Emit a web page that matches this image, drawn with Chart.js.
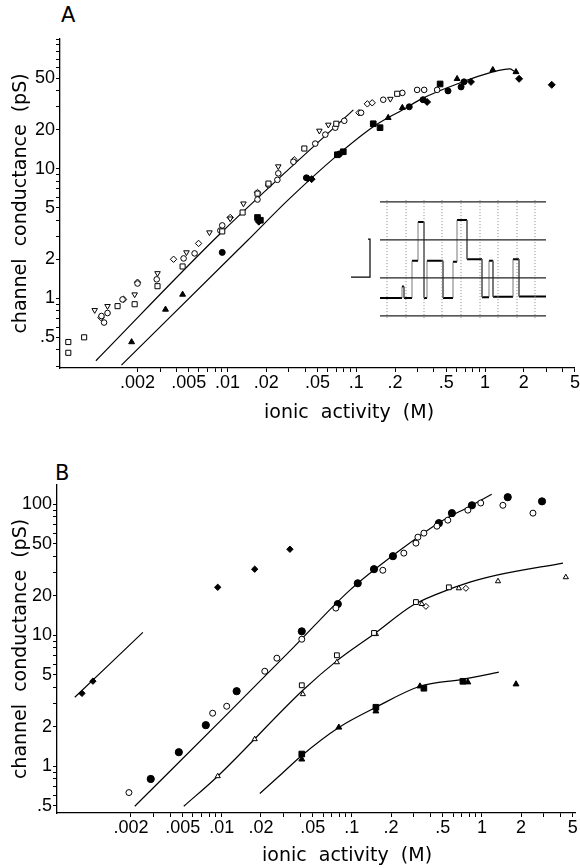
<!DOCTYPE html>
<html><head><meta charset="utf-8">
<script src="https://cdn.jsdelivr.net/npm/chart.js@4.4.1/dist/chart.umd.min.js"></script>
<style>
html,body{margin:0;padding:0;background:#fff;}
body{width:580px;height:868px;position:relative;overflow:hidden;font-family:"DejaVu Sans",sans-serif;color:#000;}
canvas{position:absolute;}
.lbl{position:absolute;font-size:21px;line-height:1;}
.xt{position:absolute;font-size:19px;white-space:pre;line-height:1;}
</style></head><body>
<div class="lbl" style="left:61px;top:5px">A</div>
<canvas id="cA" width="580" height="425" style="left:0;top:0"></canvas>
<canvas id="cIn" width="205" height="122" style="left:345px;top:198px"></canvas>
<div class="xt" style="left:264px;top:402px">ionic  activity  (M)</div>
<div class="lbl" style="left:55px;top:463px">B</div>
<canvas id="cB" width="580" height="435" style="left:0;top:430px"></canvas>
<div class="xt" style="left:262px;top:845px">ionic  activity  (M)</div>
<script>
// ---------- tick labels ----------
const xTickVals   = [0.002,0.005,0.01,0.02,0.05,0.1,0.2,0.5,1,2,5];
const xTickLabels = ['.002','.005','.01','.02','.05','.1','.2','.5','1','2','5'];
const aYTickVals   = [0.5,1,2,5,10,20,50];
const aYTickLabels = ['.5','1','2','5','10','20','50'];
const bYTickVals   = [0.5,1,2,5,10,20,50,100];
const bYTickLabels = ['.5','1','2','5','10','20','50','100'];

// ---------- panel A data [activity M, conductance pS] ----------
const aOpenCircles = [[0.0011,0.65],[0.00105,0.73],[0.00117,0.77],[0.00153,0.98],[0.0020,1.30],[0.00282,1.40],[0.00456,2.03],[0.00555,2.22],[0.0088,3.33],[0.0091,3.65],[0.0171,5.78],[0.0208,7.5],[0.0244,8.2],[0.0248,9.2],[0.0325,11.3],[0.048,15.6],[0.0575,18.3],[0.0687,20.7],[0.0807,23.4],[0.109,27],[0.162,34],[0.228,38.4],[0.297,40.5],[0.337,40.5],[0.425,40.5]];
const aOpenSquares = [[0.00058,0.46],[0.00058,0.38],[0.00077,0.50],[0.0014,0.87],[0.0019,0.90],[0.00286,1.24],[0.00448,1.76],[0.0091,3.28],[0.0131,4.59],[0.0171,6.42],[0.0208,7.67],[0.0395,14.3],[0.070,22.2],[0.208,37.8]];
const aOpenTriangles = [[0.00093,0.81],[0.00117,0.87],[0.0019,1.07],[0.00286,1.56],[0.0048,2.26],[0.00724,3.22],[0.0105,4.12],[0.0133,5.38],[0.0248,10.4],[0.0517,19.6],[0.0607,21.8],[0.184,34.5]];
const aOpenDiamonds = [[0.00104,0.71],[0.00156,0.98],[0.0020,1.33],[0.00381,2.0],[0.00596,2.65],[0.0105,4.2],[0.0171,6.54],[0.033,11.7],[0.105,27],[0.122,31.6],[0.133,32.2]];
const aFilledTriangles = [[0.0018,0.46],[0.0033,0.82],[0.00448,1.07],[0.177,24.7],[0.228,29.5],[0.607,49.3],[1.15,57.8],[1.74,55.7]];
const aFilledCircles = [[0.0091,2.26],[0.041,8.5],[0.074,13],[0.258,30],[0.33,34],[0.516,39.8],[0.652,42.7],[0.687,46.7]];
const aFilledSquares = [[0.0171,4.2],[0.0180,4.0],[0.0713,12.8],[0.0793,13.5],[0.1355,22.2],[0.153,20.7],[0.448,45]];
const aFilledDiamonds = [[0.0175,3.9],[0.042,8.4],[0.045,8.3],[0.355,32.7],[0.778,46.7],[1.84,49.3],[3.3,44.3]];
const aUpperLine = [[0.00095,0.33],[0.0088,3.16],[0.095,28.4]];
const aLowerLine = [[0.0015,0.305],[0.0143,2.79],[0.0292,5.67],[0.07,12.5],[0.14,21.5],[0.23,28.5],[0.33,35],[0.607,45],[1.15,55.7],[1.56,58.8],[1.68,56.5]];

// ---------- inset (single-channel record) ----------
const insetTime  = [0,22,24,25,32,38,44,47,63,73,77,87,102,109,113,133,139,166];
const insetLevel = [0,0.3,0,0,0.98,2.0,0,0.98,0,0.95,2.05,1.02,0.02,0.98,0.03,1.02,0.04,0.04];
const insetRefLevels = [2.53,1.53,0.53,-0.47];
const insetDotTimes = [7,26,44,62,81,100,118,137,155];
const insetScaleBar = [[-12,1.55],[-10,1.55],[-10,0.55],[-29,0.55]];

// ---------- panel B data ----------
const bFilledDiamonds = [[0.00084,3.6],[0.00102,4.46],[0.0093,23.2],[0.0179,31.9],[0.0334,45.3]];
const bFilledCircles = [[0.00284,0.80],[0.00467,1.28],[0.00753,2.06],[0.013,3.74],[0.0412,10.7],[0.078,17.3],[0.111,24.9],[0.148,31.9],[0.207,40.1],[0.467,71.6],[0.588,85.4],[0.838,98],[1.58,113],[2.9,105]];
const bOpenCircles = [[0.00193,0.63],[0.0085,2.54],[0.0109,2.87],[0.0214,5.31],[0.0265,6.68],[0.0412,9.32],[0.0753,16.1],[0.173,31.3],[0.251,42.3],[0.311,50.4],[0.322,56],[0.358,60.1],[0.451,67.9],[0.547,75.5],[0.78,90],[0.98,102],[1.45,98],[2.47,85.4]];
const bOpenSquares = [[0.0412,4.15],[0.0767,7.03],[0.148,10.4],[0.311,17.9],[0.557,23.2]];
const bOpenTriangles = [[0.0093,0.84],[0.0179,1.61],[0.042,3.55],[0.0767,6.22],[0.153,10.2],[0.345,17.3],[0.665,22.8],[1.33,25.8],[4.42,27.7]];
const bOpenDiamonds = [[0.371,16.6],[0.753,22.8]];
const bFilledSquares = [[0.0412,1.24],[0.153,2.82],[0.358,3.94],[0.714,4.45]];
const bFilledTriangles = [[0.0412,1.13],[0.0794,1.98],[0.153,2.63],[0.334,4.08],[0.78,4.38],[1.83,4.23]];
const bCurve1 = [[0.00074,3.36],[0.00247,10.5]];
const bCurve2 = [[0.00214,0.495],[0.0102,2.32],[0.0351,7.96],[0.0966,22.1],[0.234,44.5],[0.475,72.9],[0.809,96.5],[1.19,119]];
const bCurve3 = [[0.0051,0.495],[0.0093,0.84],[0.042,3.8],[0.077,6.4],[0.15,10.3],[0.294,16.9],[0.451,20.6],[0.809,25.4],[1.30,28.7],[4.2,35.5]];
const bCurve4 = [[0.0196,0.62],[0.0279,0.85],[0.0412,1.21],[0.0794,1.98],[0.153,2.82],[0.334,4.08],[0.714,4.61],[1.35,5.22]];

// ---------- helpers ----------
const INK = '#000';
const toXY = pts => pts.map(p => ({x:p[0], y:p[1]}));
function marks(pts, style, filled, r, rot){
  return {type:'scatter', data:toXY(pts), pointStyle:style, pointRadius:r, pointHoverRadius:r,
    rotation:rot||0, backgroundColor: filled?INK:'#fff', borderColor:INK, borderWidth:1, showLine:false, order:0};
}
function curve(pts){
  return {type:'line', data:toXY(pts), borderColor:INK, borderWidth:1.2, pointRadius:0, fill:false,
    cubicInterpolationMode:'monotone', order:10};
}
function logTicks(lo, hi){
  const out=[];
  for(let e=-4;e<=3;e++) for(let m=1;m<=9;m++){
    const v = +(m*Math.pow(10,e)).toPrecision(3);
    if(v>=lo*0.9999 && v<=hi*1.0001) out.push(v);
  }
  return out;
}
function labeler(vals, labels){
  return v => { const i = vals.findIndex(t => Math.abs(t-v)/t < 1e-6); return i>=0 ? labels[i] : ''; };
}
const tickFont = {family:'"Liberation Sans", Arial, sans-serif', size:18};
function xAxis(min,max,height){
  const tv = logTicks(0.002, max);
  return {type:'logarithmic', position:'bottom', min, max, bounds:'data',
    afterBuildTicks: s => { s.ticks = tv.map(v=>({value:v})); },
    afterFit: s => { s.height = height; },
    ticks:{callback: labeler(xTickVals,xTickLabels), autoSkip:false, maxRotation:0, minRotation:0, color:INK, font:tickFont, padding:0},
    grid:{display:true, drawOnChartArea:false, drawTicks:true, tickLength:4, color:INK, lineWidth:1},
    border:{display:true, color:INK, width:1.3}};
}
function yAxis(min,max,width,tlo,thi,vals,labels){
  const tv = logTicks(tlo, thi);
  return {type:'logarithmic', position:'left', min, max, bounds:'data',
    afterBuildTicks: s => { s.ticks = tv.map(v=>({value:v})); },
    afterFit: s => { s.width = width; },
    ticks:{callback: labeler(vals,labels), autoSkip:false, color:INK, font:tickFont, padding:1},
    grid:{display:true, drawOnChartArea:false, drawTicks:true, tickLength:4, color:INK, lineWidth:1},
    border:{display:true, color:INK, width:1.3},
    title:{display:true, text:'channel  conductance  (pS)', color:INK,
      font:{family:'"DejaVu Sans", sans-serif', size:19}, padding:{top:10,bottom:0}}};
}
const common = {responsive:false, animation:false, events:[],
  plugins:{legend:{display:false}, tooltip:{enabled:false}}};

// ---------- panel A ----------
new Chart(document.getElementById('cA'), {
  type:'scatter',
  data:{datasets:[
    curve(aUpperLine), curve(aLowerLine),
    marks(aOpenSquares,'rect',false,3.6),
    marks(aOpenCircles,'circle',false,2.8),
    marks(aOpenTriangles,'triangle',false,3.2,180),
    marks(aOpenDiamonds,'rectRot',false,3.2),
    marks(aFilledTriangles,'triangle',true,3.4),
    marks(aFilledCircles,'circle',true,3),
    marks(aFilledSquares,'rect',true,4),
    marks(aFilledDiamonds,'rectRot',true,3.5)
  ]},
  options:Object.assign({}, common, {
    layout:{padding:{top:39,right:5,left:0,bottom:0}},
    scales:{ x: xAxis(0.0005,5,57), y: yAxis(0.29,100,60,0.3,100,aYTickVals,aYTickLabels) }
  })
});

// ---------- inset ----------
const insetSets = [];
insetRefLevels.forEach(l => insetSets.push({type:'line', data:[{x:0,y:l},{x:166,y:l}], borderColor:'#222', borderWidth:1.2, pointRadius:0}));
const dots = [];
insetDotTimes.forEach(t => { dots.push({x:t,y:-0.53},{x:t,y:2.58},{x:t,y:null}); });
insetSets.push({type:'line', data:dots, borderColor:'#888', borderWidth:1, borderDash:[1,2], pointRadius:0, spanGaps:false});
// dwell levels (horizontal pieces) and transitions (thin vertical pieces)
const levelPieces = [], jumpPieces = [];
for (let i = 0; i < insetTime.length - 1; i++) {
  levelPieces.push({x:insetTime[i],y:insetLevel[i]},{x:insetTime[i+1],y:insetLevel[i]},{x:insetTime[i+1],y:null});
  jumpPieces.push({x:insetTime[i+1],y:insetLevel[i]},{x:insetTime[i+1],y:insetLevel[i+1]},{x:insetTime[i+1],y:null});
}
insetSets.push({type:'line', data:jumpPieces, borderColor:'#555', borderWidth:0.8, pointRadius:0, spanGaps:false});
insetSets.push({type:'line', data:levelPieces, borderColor:'#000', borderWidth:2, pointRadius:0, spanGaps:false});
insetSets.push({type:'line', data:toXY(insetScaleBar), borderColor:'#000', borderWidth:1.2, pointRadius:0});
new Chart(document.getElementById('cIn'), {
  type:'scatter',
  data:{datasets:insetSets},
  options:Object.assign({}, common, {
    layout:{padding:0},
    scales:{x:{type:'linear', min:-35, max:170, display:false}, y:{type:'linear', min:-0.58, max:2.63, display:false}}
  })
});

// ---------- panel B ----------
new Chart(document.getElementById('cB'), {
  type:'scatter',
  data:{datasets:[
    curve(bCurve1), curve(bCurve2), curve(bCurve3), curve(bCurve4),
    marks(bFilledDiamonds,'rectRot',true,3.2),
    marks(bOpenCircles,'circle',false,3),
    marks(bFilledCircles,'circle',true,3.6),
    marks(bOpenSquares,'rect',false,3.4),
    marks(bOpenTriangles,'triangle',false,3),
    marks(bOpenDiamonds,'rectRot',false,3),
    marks(bFilledSquares,'rect',true,4),
    marks(bFilledTriangles,'triangle',true,3.4)
  ]},
  options:Object.assign({}, common, {
    layout:{padding:{top:55,right:5,left:0,bottom:0}},
    scales:{ x: xAxis(0.00054,5.2,52), y: yAxis(0.44,140,57,0.5,100,bYTickVals,bYTickLabels) }
  })
});
</script>
</body></html>
